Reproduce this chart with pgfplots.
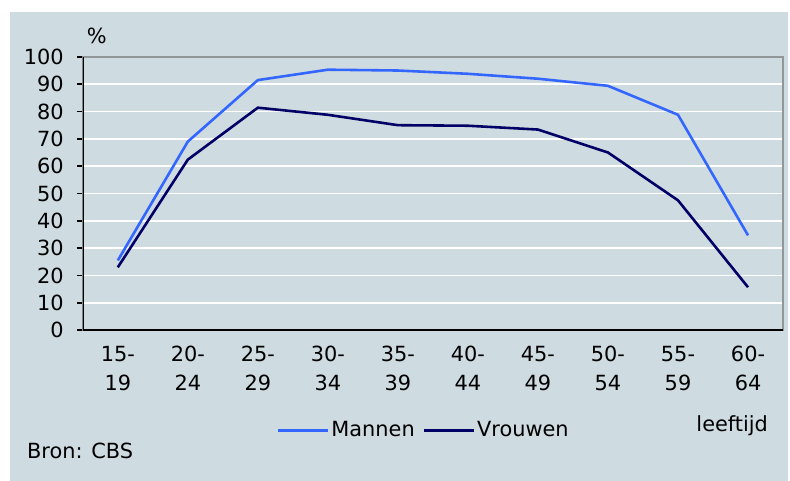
\documentclass[border=0pt]{standalone}
\usepackage{pgfplots}
\pgfplotsset{compat=1.18}
\usepackage{fontspec}
\setmainfont{DejaVu Sans}
\definecolor{bg}{RGB}{206,219,224}
\definecolor{mannen}{RGB}{51,102,255}
\definecolor{vrouwen}{RGB}{0,0,102}
\definecolor{frame}{RGB}{145,150,152}
\newcommand\fs{\fontsize{21}{29}\selectfont}
\begin{document}
\fs
\begin{tikzpicture}[x=1bp,y=-1bp]
\fill[white] (0,0) rectangle (790,482);
\fill[bg] (10,12) rectangle (790,482);
\coordinate (O) at (83,331);
\begin{axis}[
  at={(O)}, anchor=south west,
  scale only axis, width=702bp, height=274bp,
  xmin=0, xmax=10, ymin=0, ymax=100,
  ytick={0,10,...,100},
  xtick={0.5,1.5,...,9.5},
  xticklabels={{15-\\19},{20-\\24},{25-\\29},{30-\\34},{35-\\39},{40-\\44},{45-\\49},{50-\\54},{55-\\59},{60-\\64}},
  xticklabel style={align=center, yshift=-3bp},
  yticklabel style={inner sep=0pt, xshift=-13bp},
  major x tick style={draw=none},
  extra x ticks={0,1,...,10}, extra x tick labels={},
  extra x tick style={major tick length=6bp, tick style={black, line width=1.5pt}},
  ytick pos=left, xtick pos=bottom, tick align=outside,
  major tick length=6bp,
  ytick style={black, line width=1.5pt},
  ymajorgrids, grid style={white, line width=1.5pt},
  axis line style={frame, line width=1.5pt},
  axis background/.style={fill=bg},
  /pgf/number format/assume math mode=true,
  tick label style={font=\fs},
  legend style={at={(0.487,-0.366)}, anchor=center, draw=none, fill=none,
    legend columns=2, font=\fs,
    /tikz/every even column/.append style={column sep=6bp}},
  legend image code/.code={\draw[#1] (0bp,0bp) -- (50bp,0bp);},
]
\addplot[mannen, line width=2.6pt] coordinates {
(0.5,25.5) (1.5,69) (2.5,91.5) (3.5,95.3) (4.5,95) (5.5,93.8) (6.5,92) (7.5,89.4) (8.5,78.8) (9.5,34.7)};
\addlegendentry{Mannen}
\addplot[vrouwen, line width=2.6pt] coordinates {
(0.5,23) (1.5,62.4) (2.5,81.4) (3.5,78.8) (4.5,75) (5.5,74.8) (6.5,73.4) (7.5,65) (8.5,47.5) (9.5,15.7)};
\addlegendentry{Vrouwen}
\draw[black, line width=1.5pt] (rel axis cs:0,1) -- (rel axis cs:0,0) -- (rel axis cs:1,0);
\end{axis}
\node[anchor=base] at (97,44) {\%};
\node[anchor=base west, inner sep=0] at (698,433) {leeftijd};
\node[anchor=base west, inner sep=0] at (27,460) {Bron: CBS};
\end{tikzpicture}
\end{document}
